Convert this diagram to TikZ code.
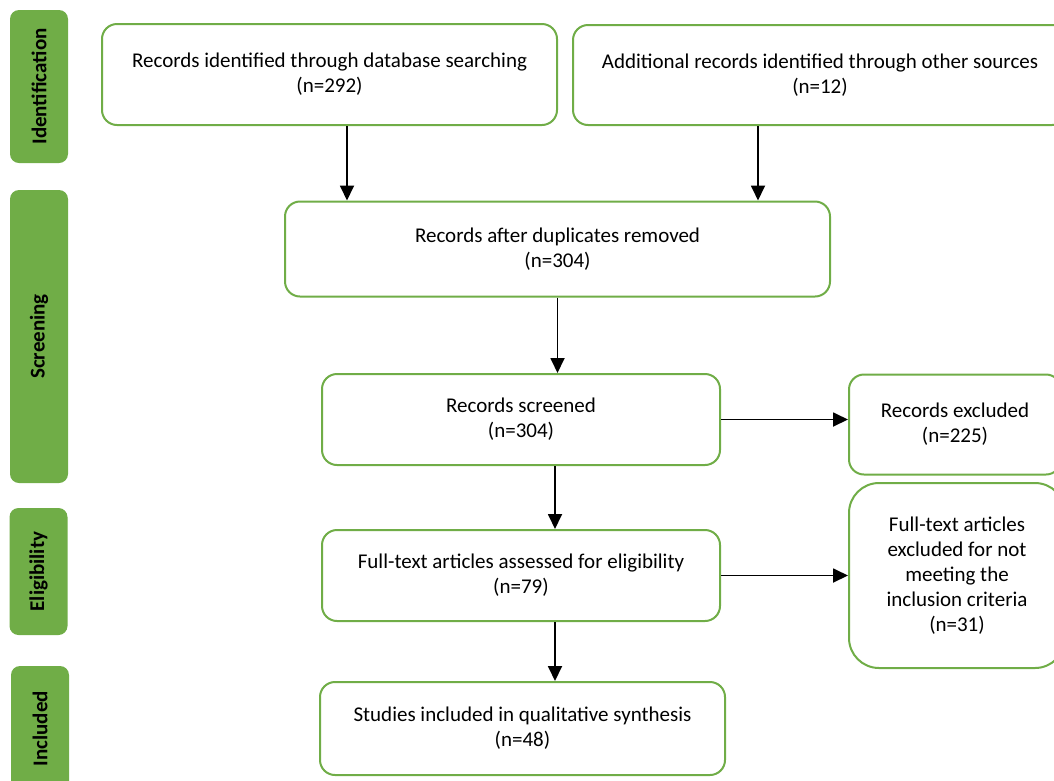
\documentclass[tikz,border=0pt]{standalone}
\usepackage{fontspec}
\setmainfont{Carlito}
\usetikzlibrary{arrows.meta}
\definecolor{prismagreen}{HTML}{70AD47}
\tikzset{
    box/.style = {rectangle, rounded corners=15pt, draw=prismagreen, line width=2pt, fill=white, align=center, inner sep=0pt, font=\fontsize{21}{25}\selectfont},
    bigbox/.style = {box, rounded corners=30pt},
    phase/.style = {rectangle, rounded corners=9pt, fill=prismagreen, rotate=90, inner sep=0pt, font=\bfseries\fontsize{21}{25}\selectfont},
    edgen/.style = {-{Triangle[length=15pt,width=14pt]}, line width=1.8pt, black}
}

\begin{document}
\begin{tikzpicture}[x=1pt, y=-1pt]
  \useasboundingbox (0,0) rectangle (1054,780);
  \clip (0,0) rectangle (1054,780);

  % phases on the left
  \node[phase, minimum width=153pt, minimum height=58pt] (identification) at (39,86.5) {Identification};
  \node[phase, minimum width=293pt, minimum height=58pt] (screening) at (39,336.5) {Screening};
  \node[phase, minimum width=127pt, minimum height=58pt] (eligibility) at (38.5,571.5) {Eligibility};
  \node[phase, minimum width=125pt, minimum height=58pt] (inclusion) at (40,728.5) {Included};

  % boxes
  \node[box, minimum width=455pt, minimum height=101pt] (recdb) at (329.5,74.5) {Records identified through database searching\\(n=292)};
  \node[box, minimum width=494pt, minimum height=100pt] (recother) at (820,75) {Additional records identified through other sources\\(n=12)};
  \node[box, minimum width=545pt, minimum height=95pt] (dedup) at (557.5,249) {Records after duplicates removed\\(n=304)};
  \node[box, minimum width=398pt, minimum height=91pt] (screened) at (521,419.5) {Records screened\\(n=304)};
  \node[box, minimum width=212pt, minimum height=100pt] (excl) at (955,424.5) {Records excluded\\(n=225)};
  \node[box, minimum width=398pt, minimum height=91pt] (fulltext) at (521,575.5) {Full-text articles assessed for eligibility\\(n=79)};
  \node[bigbox, minimum width=216pt, minimum height=185pt] (ftexcl) at (957,575.5) {Full-text articles\\excluded for not\\meeting the\\inclusion criteria\\(n=31)};
  \node[box, minimum width=405pt, minimum height=93pt] (included) at (522.5,728.5) {Studies included in qualitative synthesis\\(n=48)};

  % arrow columns
  \coordinate (colA) at (347,0);
  \coordinate (colB) at (758,0);
  \coordinate (colC) at (555,0);

  \draw[edgen] (recdb.south -| colA) -- (dedup.north -| colA);
  \draw[edgen] (recother.south -| colB) -- (dedup.north -| colB);
  \draw[edgen] (dedup.south) -- (screened.north -| dedup.south);
  \draw[edgen] (screened.south -| colC) -- (fulltext.north -| colC);
  \draw[edgen] (fulltext.south -| colC) -- (included.north -| colC);
  \draw[edgen] (screened.east) -- (excl.west |- screened.east);
  \draw[edgen] (fulltext.east) -- (ftexcl.west |- fulltext.east);
\end{tikzpicture}
\end{document}
